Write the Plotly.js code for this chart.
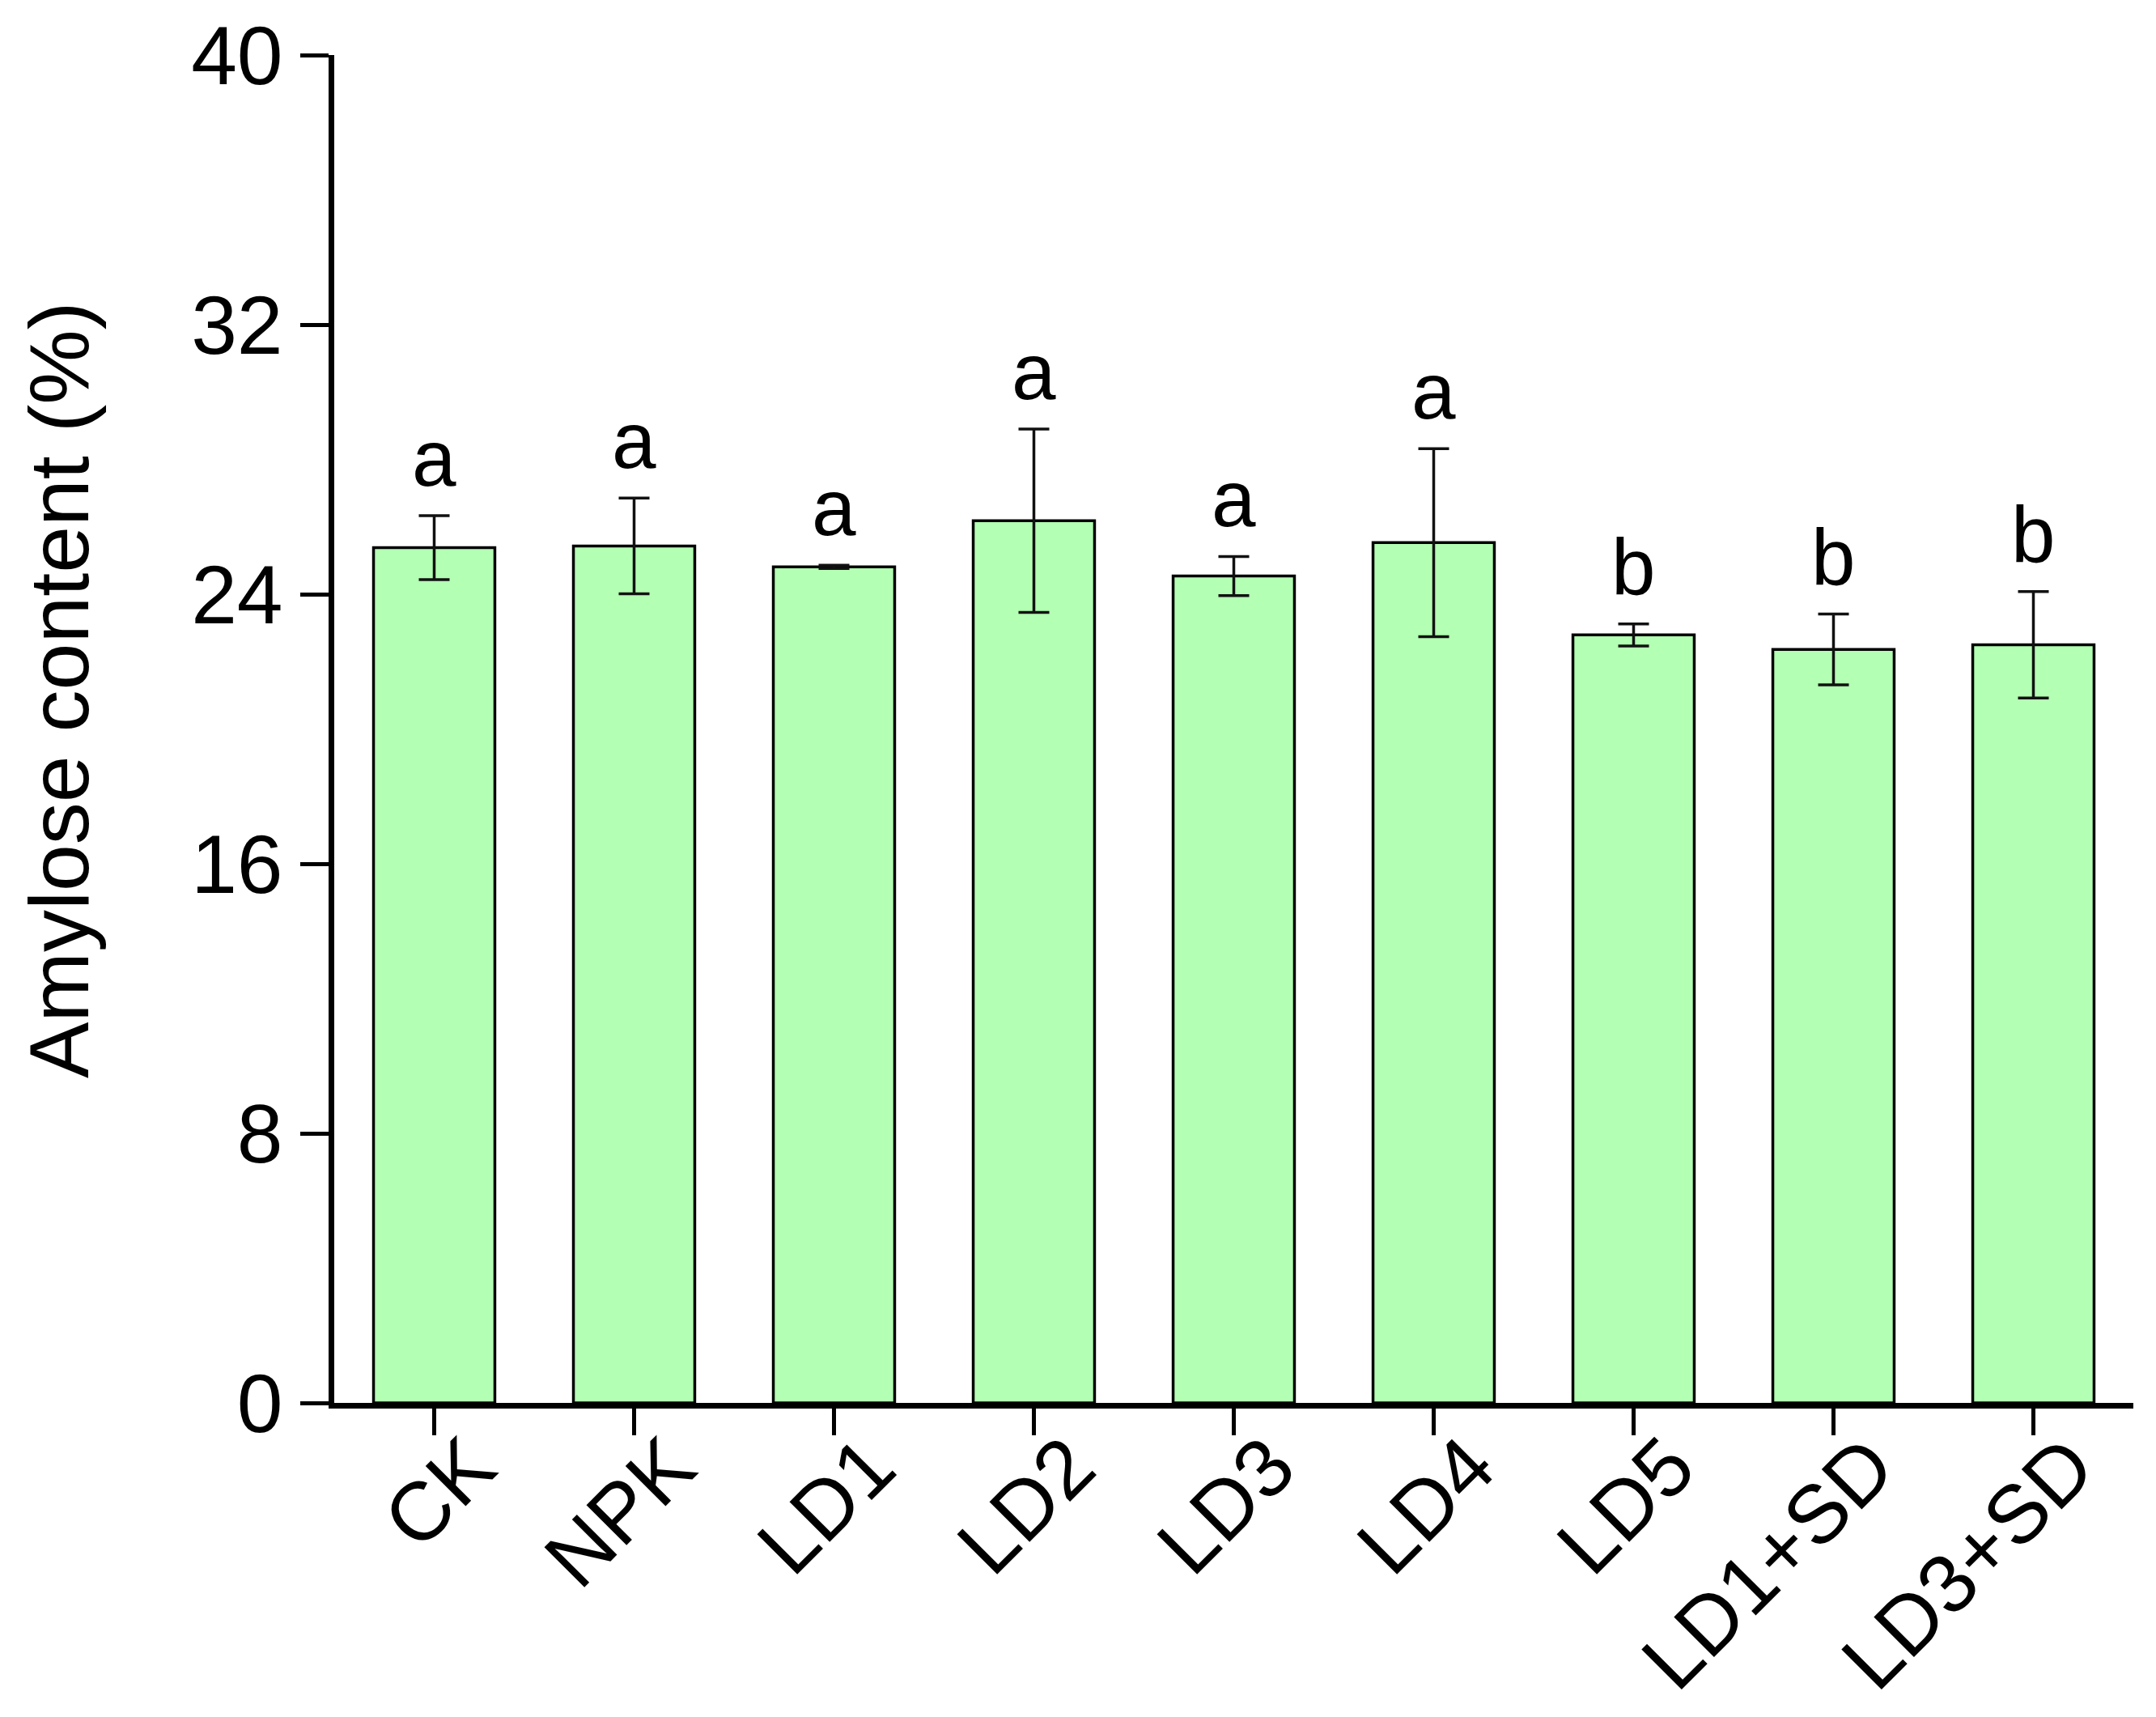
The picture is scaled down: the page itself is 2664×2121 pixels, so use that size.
<!DOCTYPE html>
<html>
<head>
<meta charset="utf-8">
<script src="https://cdn.plot.ly/plotly-3.0.1.min.js"></script>
<style>html,body{margin:0;padding:0;background:#fff;}#chart{width:2664px;height:2121px;}</style>
</head>
<body>
<div id="chart"></div>
<script>
const categories = ["CK", "NPK", "LD1", "LD2", "LD3", "LD4", "LD5", "LD1+SD", "LD3+SD"];
const amylose = [25.38, 25.43, 24.81, 26.18, 24.54, 25.53, 22.79, 22.36, 22.50];
const sd = [0.95, 1.42, 0.05, 2.72, 0.58, 2.79, 0.33, 1.05, 1.58];
const letters = ["a", "a", "a", "a", "a", "a", "b", "b", "b"];
const yTicks = [0, 8, 16, 24, 32, 40];
const yTitle = "Amylose content (%)";

const FONT = "Arial, 'Liberation Sans', Helvetica, sans-serif";

const trace = {
  type: "bar",
  x: categories,
  y: amylose,
  marker: {color: "#b3ffb3", line: {color: "#000000", width: 3.5}},
  error_y: {type: "data", array: sd, visible: true, color: "#111111", thickness: 3.5, width: 19},
  hoverinfo: "x+y"
};

const annotations = categories.map((c, i) => ({
  x: c, y: amylose[i] + sd[i], xref: "x", yref: "y",
  text: letters[i], showarrow: false, yanchor: "bottom", yshift: 14,
  font: {family: FONT, size: 98, color: "#000"}
}));

annotations.push({
  xref: "paper", yref: "paper", x: -0.153, y: 0.529,
  xanchor: "center", yanchor: "middle", textangle: -90,
  text: yTitle, showarrow: false,
  font: {family: FONT, size: 104, color: "#000"}
});

const layout = {
  width: 2664, height: 2121,
  margin: {l: 413, r: 28, t: 68, b: 388, pad: 0},
  paper_bgcolor: "#ffffff", plot_bgcolor: "#ffffff",
  showlegend: false,
  bargap: 0.393,
  font: {family: FONT, color: "#000"},
  xaxis: {
    type: "category", range: [-0.5, 8.5],
    showline: true, linecolor: "#000", linewidth: 7,
    ticks: "outside", ticklen: 33, tickwidth: 5, tickcolor: "#000",
    tickangle: -45, tickfont: {family: FONT, size: 102, color: "#000"},
    ticklabelshift: 45, ticklabelstandoff: -62,
    showgrid: false, zeroline: false
  },
  yaxis: {
    range: [0, 40], tickvals: yTicks, ticktext: yTicks.map(String),
    showline: true, linecolor: "#000", linewidth: 7,
    ticks: "outside", ticklen: 35, tickwidth: 5, tickcolor: "#000",
    tickfont: {family: FONT, size: 102, color: "#000"},
    ticklabelstandoff: 1,
    showgrid: false, zeroline: false
  },
  annotations: annotations
};

Plotly.newPlot("chart", [trace], layout, {displayModeBar: false, staticPlot: true});
</script>
</body>
</html>
